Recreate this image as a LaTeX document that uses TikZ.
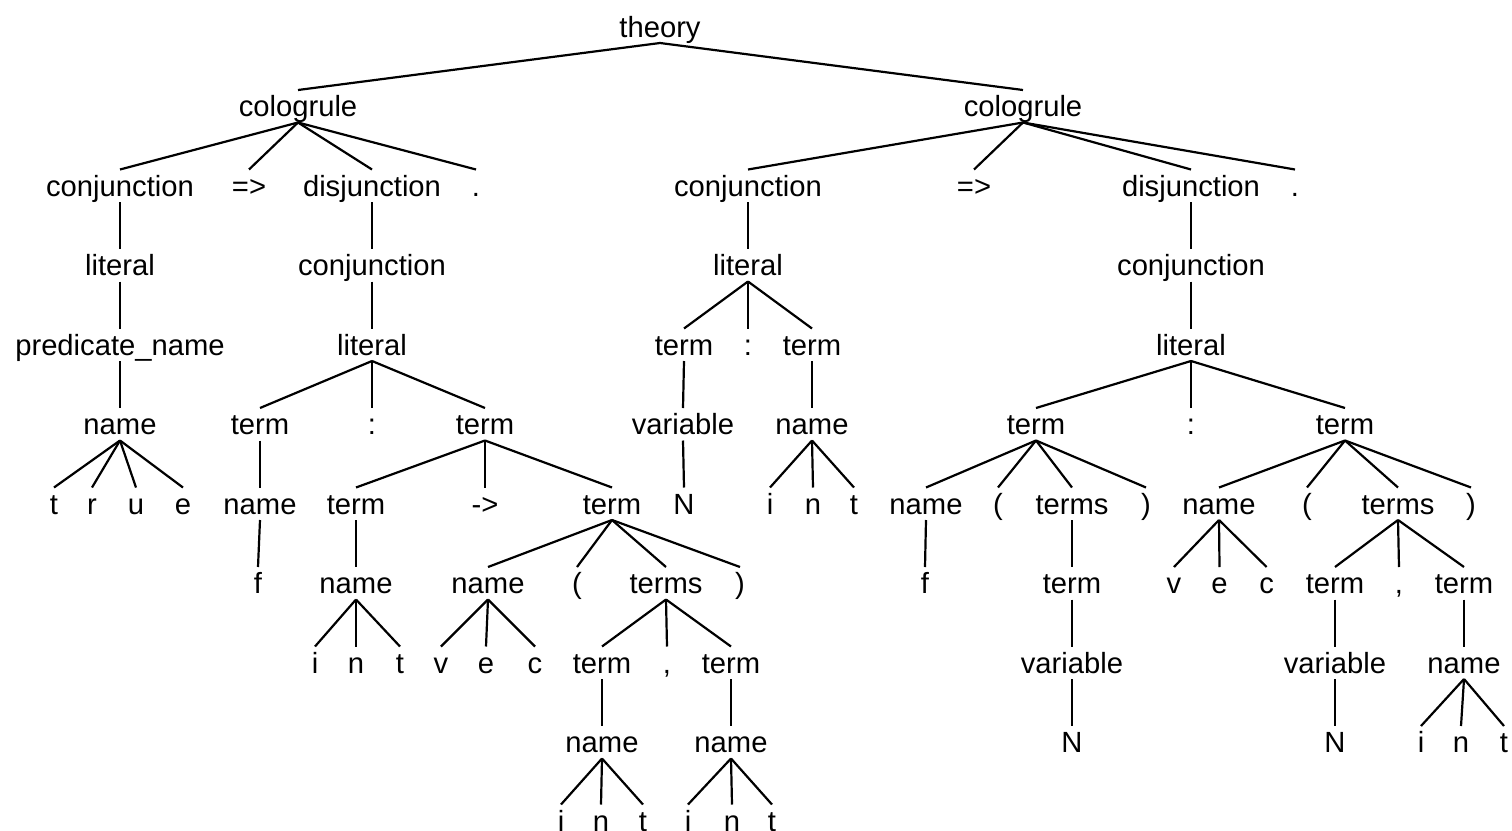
\documentclass[tikz,border=0pt]{standalone}
\usepackage{fontspec}
\setmainfont{Liberation Sans}
\newcommand\labfont{\fontsize{29.2}{35}\selectfont}
\begin{document}
\begin{tikzpicture}[x=1pt,y=-1pt,
  lab/.style={anchor=base,inner sep=0pt,outer sep=0pt,
    text height=26.5pt,text depth=6pt,font=\labfont},
  link/.style={line width=2.2pt,black}]
\fill[white] (0,0) rectangle (1512,830);
\useasboundingbox (0,0) rectangle (1512,830);
\clip (0,0) rectangle (1512,830);

% root and the two rules
\node[lab] (th) at (660,37) {theory};
\node[lab] (A) at (298,116.5) {cologrule};
\node[lab] (B) at (1023,116.5) {cologrule};

% ---- first rule ----
\node[lab] (A1) at (120,196) {conjunction};
\node[lab] (A2) at (249,196) {=>};
\node[lab] (A3) at (372,196) {disjunction};
\node[lab] (A4) at (476,196) {.};
\node[lab] (A11) at (120,275.5) {literal};
\node[lab] (A111) at (120,355) {predicate\_name};
\node[lab] (A1111) at (120,434.5) {name};
\foreach \x/\s [count=\k] in {54/t,92/r,136/u,183/e}
  \node[lab] (T\k) at (\x,514) {\s};

\node[lab] (A31) at (372,275.5) {conjunction};
\node[lab] (A311) at (372,355) {literal};
\node[lab] (P1) at (260,434.5) {term};
\node[lab] (P2) at (372,434.5) {:};
\node[lab] (P3) at (485,434.5) {term};
\node[lab] (P11) at (260,514) {name};
\node[lab] (P111) at (258,593.5) {f};
\node[lab] (P31) at (356,514) {term};
\node[lab] (P32) at (485,514) {->};
\node[lab] (P33) at (612,514) {term};
\node[lab] (P311) at (356,593.5) {name};
\foreach \x/\s [count=\k] in {315/i,356/n,400/t}
  \node[lab] (PI\k) at (\x,673) {\s};
\node[lab] (P331) at (488,593.5) {name};
\foreach \x/\s [count=\k] in {441/v,486/e,535/c}
  \node[lab] (PV\k) at (\x,673) {\s};
\node[lab] (P332) at (577,593.5) {(};
\node[lab] (P333) at (666,593.5) {terms};
\node[lab] (P334) at (740,593.5) {)};
\node[lab] (Q1) at (602,673) {term};
\node[lab] (Q2) at (667,673) {,};
\node[lab] (Q3) at (731,673) {term};
\node[lab] (Q11) at (602,752.5) {name};
\node[lab] (Q31) at (731,752.5) {name};
\foreach \x/\s [count=\k] in {561/i,601/n,643/t}
  \node[lab] (QA\k) at (\x,831) {\s};
\foreach \x/\s [count=\k] in {688/i,732/n,772/t}
  \node[lab] (QB\k) at (\x,831) {\s};

% ---- second rule ----
\node[lab] (B1) at (748,196) {conjunction};
\node[lab] (B2) at (974,196) {=>};
\node[lab] (B3) at (1191,196) {disjunction};
\node[lab] (B4) at (1295,196) {.};
\node[lab] (B11) at (748,275.5) {literal};
\node[lab] (R1) at (684,355) {term};
\node[lab] (R2) at (748,355) {:};
\node[lab] (R3) at (812,355) {term};
\node[lab] (R11) at (683,434.5) {variable};
\node[lab] (R111) at (684,514) {N};
\node[lab] (R31) at (812,434.5) {name};
\foreach \x/\s [count=\k] in {770/i,813/n,854/t}
  \node[lab] (RI\k) at (\x,514) {\s};

\node[lab] (B31) at (1191,275.5) {conjunction};
\node[lab] (B311) at (1191,355) {literal};
\node[lab] (S1) at (1036,434.5) {term};
\node[lab] (S2) at (1191,434.5) {:};
\node[lab] (S3) at (1345,434.5) {term};
\node[lab] (S11) at (926,514) {name};
\node[lab] (S12) at (998,514) {(};
\node[lab] (S13) at (1072,514) {terms};
\node[lab] (S14) at (1146,514) {)};
\node[lab] (S111) at (925,593.5) {f};
\node[lab] (S131) at (1072,593.5) {term};
\node[lab] (S1311) at (1072,673) {variable};
\node[lab] (S13111) at (1072,752.5) {N};
\node[lab] (S31) at (1219,514) {name};
\node[lab] (S32) at (1307,514) {(};
\node[lab] (S33) at (1398,514) {terms};
\node[lab] (S34) at (1471,514) {)};
\foreach \x/\s [count=\k] in {1174/v,1219.5/e,1266.6/c}
  \node[lab] (SV\k) at (\x,593.5) {\s};
\node[lab] (S331) at (1335,593.5) {term};
\node[lab] (S332) at (1399,593.5) {,};
\node[lab] (S333) at (1464,593.5) {term};
\node[lab] (S3311) at (1335,673) {variable};
\node[lab] (S33111) at (1335,752.5) {N};
\node[lab] (S3331) at (1464,673) {name};
\foreach \x/\s [count=\k] in {1421/i,1461/n,1504/t}
  \node[lab] (SI\k) at (\x,752.5) {\s};

% ---- branches ----
\foreach \p/\c in {th/A,th/B,
    A/A1,A/A2,A/A3,A/A4,A1/A11,A11/A111,A111/A1111,
    A1111/T1,A1111/T2,A1111/T3,A1111/T4,
    A3/A31,A31/A311,A311/P1,A311/P2,A311/P3,
    P1/P11,P11/P111,P3/P31,P3/P32,P3/P33,
    P31/P311,P311/PI1,P311/PI2,P311/PI3,
    P33/P331,P33/P332,P33/P333,P33/P334,
    P331/PV1,P331/PV2,P331/PV3,
    P333/Q1,P333/Q2,P333/Q3,Q1/Q11,Q3/Q31,
    Q11/QA1,Q11/QA2,Q11/QA3,Q31/QB1,Q31/QB2,Q31/QB3,
    B/B1,B/B2,B/B3,B/B4,B1/B11,B11/R1,B11/R2,B11/R3,
    R1/R11,R11/R111,R3/R31,R31/RI1,R31/RI2,R31/RI3,
    B3/B31,B31/B311,B311/S1,B311/S2,B311/S3,
    S1/S11,S1/S12,S1/S13,S1/S14,S11/S111,
    S13/S131,S131/S1311,S1311/S13111,
    S3/S31,S3/S32,S3/S33,S3/S34,S31/SV1,S31/SV2,S31/SV3,
    S33/S331,S33/S332,S33/S333,S331/S3311,S3311/S33111,
    S333/S3331,S3331/SI1,S3331/SI2,S3331/SI3}
  \draw[link] (\p.south) -- (\c.north);
\end{tikzpicture}
\end{document}
